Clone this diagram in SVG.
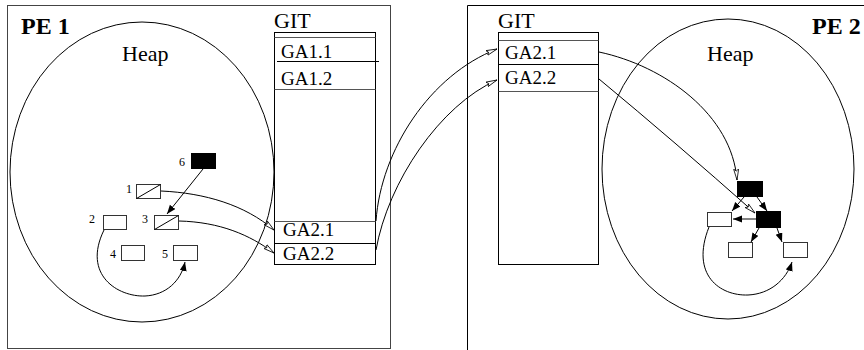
<svg xmlns="http://www.w3.org/2000/svg" width="864" height="350" viewBox="0 0 864 350">
<defs>
<style>
.ln{fill:none;stroke:#000;stroke-width:1}
.gy{fill:none;stroke:#555;stroke-width:1}
.box{fill:#fff;stroke:#333;stroke-width:1}
.blk{fill:#000;stroke:#000;stroke-width:1}
.t{font-family:"Liberation Serif","Times New Roman",serif;fill:#000}
.big{font-size:22px}
.ga{font-size:19px}
.sm{font-size:12px}
.pe{font-size:24px;font-weight:bold}
.open{fill:none;stroke:#000;stroke-width:1;marker-end:url(#openA)}
.fill{fill:none;stroke:#000;stroke-width:1;marker-end:url(#fillA)}
</style>
<marker id="openA" markerUnits="userSpaceOnUse" markerWidth="12" markerHeight="8" refX="11" refY="3" orient="auto">
<path d="M0,0.5 L11,3 L0,5.5 L2,3 Z" fill="#fff" stroke="#000" stroke-width="0.8"/>
</marker>
<marker id="fillA" markerUnits="userSpaceOnUse" markerWidth="10" markerHeight="8" refX="9" refY="3.5" orient="auto">
<path d="M0,0 L9,3.5 L0,7 Z" fill="#000"/>
</marker>
</defs>

<g id="pe1">
<rect x="7.5" y="5.5" width="383" height="343" fill="none" stroke="#444" stroke-width="1"/>
<text class="t pe" x="21" y="34">PE 1</text>
<ellipse cx="142" cy="172" rx="132" ry="150" class="ln"/>
<text class="t big" x="122" y="61">Heap</text>
</g>

<g id="git1">
<text class="t big" x="274" y="28">GIT</text>
<rect x="274.5" y="32.5" width="101" height="232" fill="none" stroke="#000"/>
<line x1="274.5" y1="37.5" x2="375.5" y2="37.5" class="gy"/>
<line x1="277" y1="61.5" x2="379" y2="61.5" class="ln"/>
<line x1="274.5" y1="89.5" x2="375.5" y2="89.5" class="gy"/>
<line x1="274.5" y1="221.5" x2="375.5" y2="221.5" class="gy"/>
<line x1="274.5" y1="243.5" x2="375.5" y2="243.5" class="ln"/>
<text class="t ga" x="281" y="58">GA1.1</text>
<text class="t ga" x="281" y="85">GA1.2</text>
<text class="t ga" x="283" y="236">GA2.1</text>
<text class="t ga" x="283" y="260">GA2.2</text>
</g>

<g id="heap1-nodes">
<g id="n6"><rect x="191.5" y="153.5" width="24" height="15" class="blk"/><text class="t sm" x="179" y="166">6</text></g>
<g id="n1"><rect x="136.5" y="184.5" width="24" height="14" class="box"/><line x1="136.5" y1="198.5" x2="160.5" y2="184.5" class="ln"/><text class="t sm" x="126" y="193">1</text></g>
<g id="n2"><rect x="103.5" y="215.5" width="23" height="14" class="box"/><text class="t sm" x="89" y="223">2</text></g>
<g id="n3"><rect x="154.5" y="215.5" width="24" height="14" class="box"/><line x1="154.5" y1="229.5" x2="178.5" y2="215.5" class="ln"/><text class="t sm" x="142" y="223">3</text></g>
<g id="n4"><rect x="121.5" y="245.5" width="23" height="15" class="box"/><text class="t sm" x="110" y="258">4</text></g>
<g id="n5"><rect x="173.5" y="245.5" width="24" height="15" class="box"/><text class="t sm" x="162" y="258">5</text></g>
</g>

<g id="pe2">
<path d="M467.5,350 V5.5 H864" fill="none" stroke="#000" stroke-width="1"/>
<text class="t pe" x="812" y="34">PE 2</text>
<ellipse cx="728" cy="169" rx="126" ry="150" class="ln"/>
<text class="t big" x="707" y="61">Heap</text>
</g>

<g id="git2">
<text class="t big" x="498" y="28">GIT</text>
<rect x="498.5" y="32.5" width="100" height="232" fill="none" stroke="#000"/>
<line x1="498.5" y1="40.5" x2="598.5" y2="40.5" class="gy"/>
<line x1="498.5" y1="64.5" x2="598.5" y2="64.5" class="ln"/>
<line x1="498.5" y1="91.5" x2="598.5" y2="91.5" class="gy"/>
<text class="t ga" x="505" y="59">GA2.1</text>
<text class="t ga" x="505" y="84">GA2.2</text>
</g>

<g id="heap2-nodes">
<rect id="b1" x="737.5" y="181.5" width="25" height="15" class="blk"/>
<rect id="b2" x="756.5" y="211.5" width="24" height="16" class="blk"/>
<rect id="w1" x="707.5" y="212.5" width="24" height="14" class="box"/>
<rect id="w2" x="728.5" y="242.5" width="24" height="15" class="box"/>
<rect id="w3" x="783.5" y="242.5" width="24" height="15" class="box"/>
</g>

<g id="connectors">
<path d="M203,169 L167,214" class="fill"/>
<path d="M104,230 C 82,275 118,297 145,296 C 166,295 181,281 185,262" class="fill"/>
<path d="M161,191 C 205,193 245,205 274,230" class="open"/>
<path d="M179,221 C 220,222 250,235 274,253" class="open"/>
<path d="M376,221 C 381,150 430,75 497,49" class="open"/>
<path d="M376,250 C 388,182 440,105 497,80" class="open"/>
<path d="M599,52 C 665,66 732,115 737,180" class="open"/>
<path d="M599,79 Q 675,142 755,213" class="open"/>
<path d="M744,197 L732,211" class="fill"/>
<path d="M757,197 L767,211" class="fill"/>
<path d="M756,219 L733,219" fill="none" stroke="#666" stroke-width="1.6" marker-end="url(#fillA)"/>
<path d="M759,228 L751,242" class="fill"/>
<path d="M777,228 L782,242" class="fill"/>
<path d="M709,227 C 690,275 720,296 748,295 C 770,294 786,280 792,262" class="fill"/>
</g>
</svg>
